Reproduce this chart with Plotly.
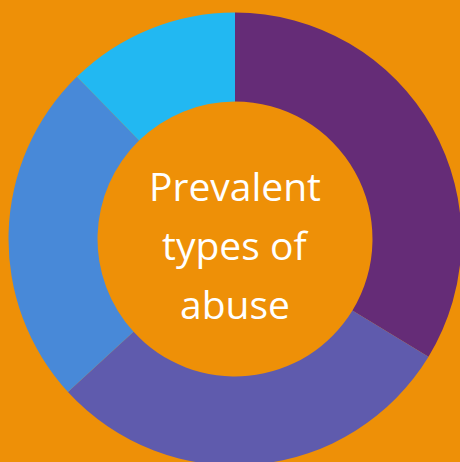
import plotly.graph_objects as go

# Share of each abuse type (percent), clockwise from 12 o'clock
categories = ["Type A", "Type B", "Type C", "Type D"]
shares = [33.7, 29.5, 24.5, 12.3]
slice_colors = ["#652C77", "#5F5BAD", "#4889D8", "#22B8F2"]
center_lines = ["Prevalent", "types of", "abuse"]

BG = "#EE9007"
W, H = 480, 480          # canvas; the page clips to 460x462
CX, CY, R = 235, 239, 226.5

fig = go.Figure(
    go.Pie(
        labels=categories,
        values=shares,
        hole=0.607,
        sort=False,
        direction="clockwise",
        rotation=0,
        marker=dict(colors=slice_colors, line=dict(width=0)),
        textinfo="none",
        hoverinfo="label+percent",
        domain=dict(x=[(CX - R) / W, (CX + R) / W],
                    y=[1 - (CY + R) / H, 1 - (CY - R) / H]),
    )
)

# vertical centres of the three centre-text lines (px from top)
line_mid = [186, 245, 303]
for txt, ym in zip(center_lines, line_mid):
    fig.add_annotation(
        text=txt, x=CX / W, y=1 - ym / H, xref="paper", yref="paper",
        xanchor="center", yanchor="middle", showarrow=False,
        font=dict(family="Open Sans", size=39, color="white"),
    )

fig.update_layout(
    width=W, height=H,
    margin=dict(l=0, r=0, t=0, b=0),
    paper_bgcolor=BG, plot_bgcolor=BG,
    showlegend=False,
)

fig.write_html(
    "out.html",
    post_script="document.body.style.margin='0';document.body.style.overflow='hidden';"
                "document.documentElement.style.overflow='hidden';",
)
